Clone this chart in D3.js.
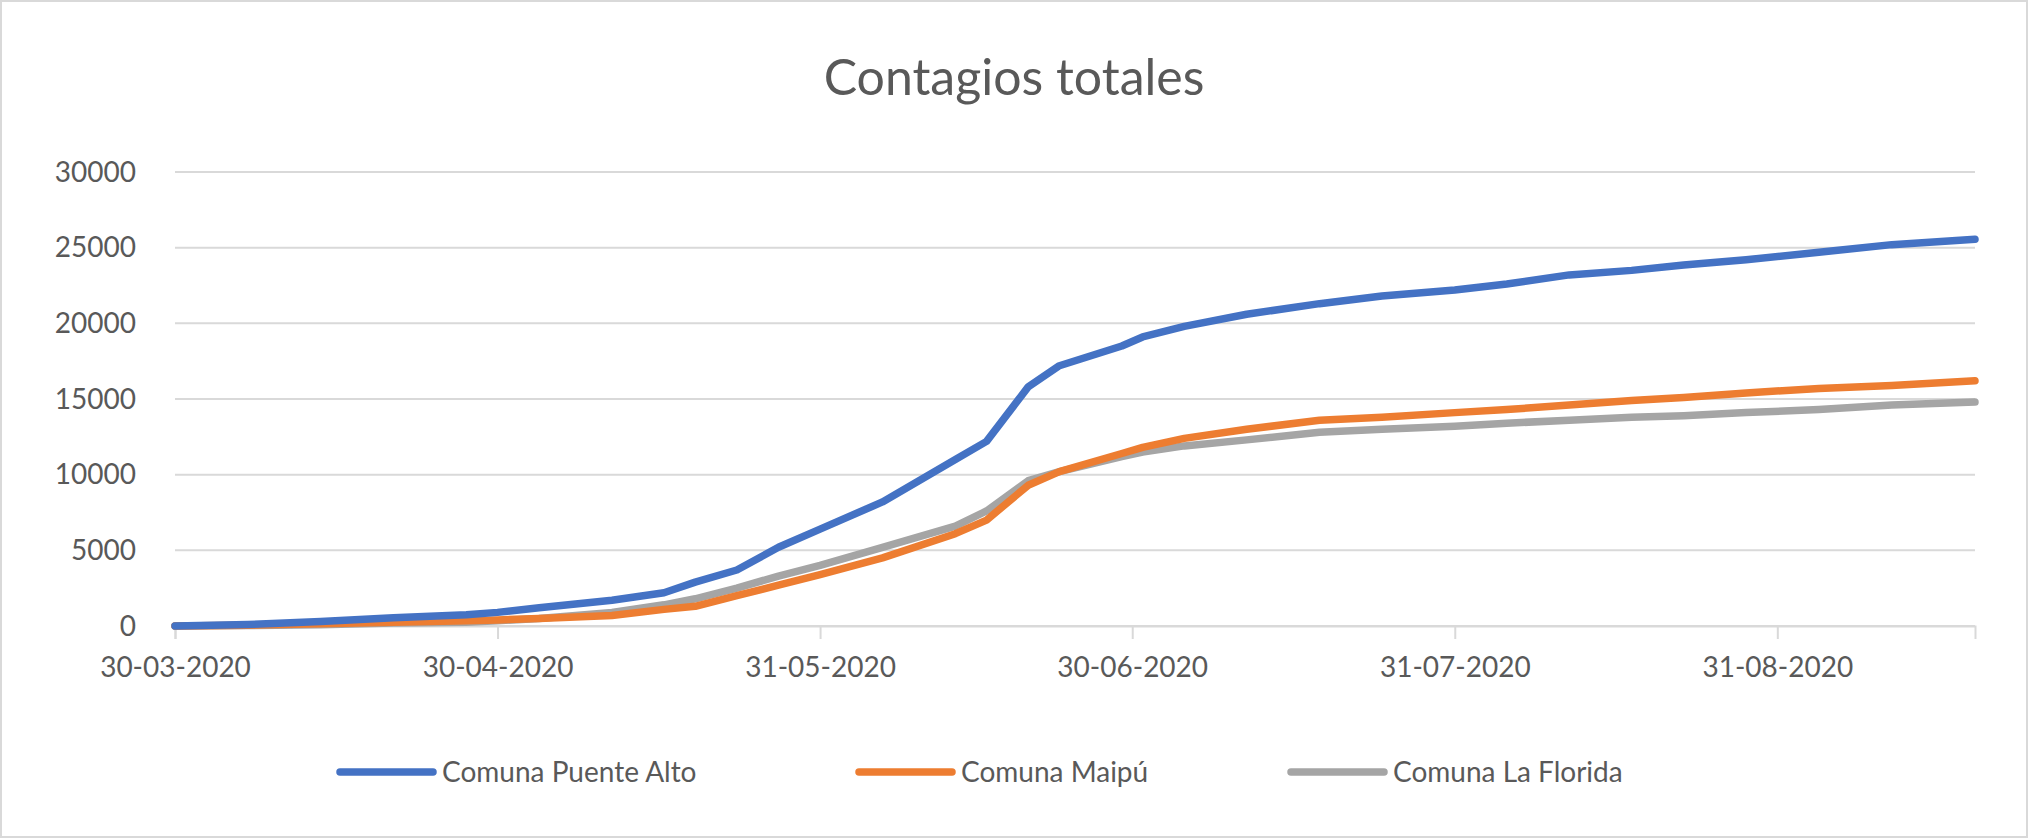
<!DOCTYPE html>
<html lang="en">
<head>
<meta charset="UTF-8">
<title>Contagios totales</title>
<script src="https://d3js.org/d3.v7.min.js"></script>
<style>
  body { margin: 0; background: #fff; }
  svg { font-family: Lato, "Open Sans", sans-serif; }
</style>
</head>
<body>
<div id="chart"></div>
<script>
const dates = ["2020-03-30","2020-04-06","2020-04-13","2020-04-20","2020-04-27","2020-04-30","2020-05-04",
  "2020-05-11","2020-05-16","2020-05-19","2020-05-23","2020-05-27","2020-05-31","2020-06-06","2020-06-13",
  "2020-06-16","2020-06-20","2020-06-23","2020-06-29","2020-07-01","2020-07-05","2020-07-11","2020-07-18",
  "2020-07-24","2020-07-31","2020-08-05","2020-08-11","2020-08-17","2020-08-22","2020-08-28","2020-09-04",
  "2020-09-11","2020-09-19"];
const puenteAlto = [0,100,300,550,750,900,1200,1700,2200,2900,3700,5200,6400,8200,11000,12200,15800,17200,
  18500,19100,19800,20600,21300,21800,22200,22600,23200,23500,23850,24200,24700,25200,25550];
const maipu = [0,50,150,250,350,400,500,700,1100,1300,2000,2700,3400,4500,6100,7000,9300,10200,11400,11800,
  12400,13000,13600,13800,14100,14300,14600,14900,15100,15400,15700,15900,16200];
const laFlorida = [0,30,80,200,250,350,500,900,1400,1800,2500,3300,4000,5200,6600,7600,9600,10200,11200,11500,
  11900,12300,12800,13000,13200,13400,13600,13800,13900,14100,14300,14600,14800];
const seriesNames = ["Comuna Puente Alto", "Comuna Maipú", "Comuna La Florida"];
const seriesColors = ["#4472c4", "#ed7d31", "#a5a5a5"];
const tickDates = ["2020-03-30","2020-04-30","2020-05-31","2020-06-30","2020-07-31","2020-08-31"];
const yTicks = [0, 5000, 10000, 15000, 20000, 25000, 30000];

const width = 2028, height = 838;
const margin = {left: 175, right: 53, top: 172, bottom: 212};
const parse = d3.timeParse("%Y-%m-%d");
const fmt = d3.timeFormat("%d-%m-%Y");

const svg = d3.select("#chart").append("svg").attr("width", width).attr("height", height);
svg.append("rect").attr("x", 1).attr("y", 1).attr("width", width - 2).attr("height", height - 2)
   .attr("fill", "#fff").attr("stroke", "#d9d9d9").attr("stroke-width", 2);

const x = d3.scaleTime().domain([parse(dates[0]), parse(dates[dates.length - 1])])
            .range([margin.left, width - margin.right]);
const y = d3.scaleLinear().domain([0, 30000]).range([height - margin.bottom, margin.top]);

svg.append("text").attr("x", width / 2).attr("y", 95).attr("text-anchor", "middle")
   .attr("font-size", 50).attr("fill", "#595959").text("Contagios totales");

// grid
svg.append("g").selectAll("line").data(yTicks).join("line")
   .attr("x1", margin.left).attr("x2", width - margin.right)
   .attr("y1", d => y(d)).attr("y2", d => y(d))
   .attr("stroke", "#d9d9d9").attr("stroke-width", 2);

// y labels
svg.append("g").selectAll("text").data(yTicks).join("text")
   .attr("x", 136).attr("y", d => y(d)).attr("dy", "0.35em").attr("text-anchor", "end")
   .attr("font-size", 28).attr("fill", "#595959").text(d => d);

// x axis
const xAxis = d3.axisBottom(x).tickValues(tickDates.map(parse)).tickFormat(fmt).tickSize(13).tickPadding(18);
const gx = svg.append("g").attr("transform", `translate(0,${y(0)})`).call(xAxis);
gx.select(".domain").attr("stroke", "#d9d9d9").attr("stroke-width", 2);
gx.selectAll(".tick line").attr("stroke", "#d9d9d9").attr("stroke-width", 2);
gx.selectAll(".tick text").attr("font-size", 28).attr("fill", "#595959")
  .attr("font-family", "Lato, 'Open Sans', sans-serif");

// lines
const allSeries = [puenteAlto, maipu, laFlorida];
const line = d3.line().x((d, i) => x(parse(dates[i]))).y(d => y(d));
[2, 1, 0].forEach(k => {
  svg.append("path").datum(allSeries[k]).attr("d", line)
     .attr("fill", "none").attr("stroke", seriesColors[k]).attr("stroke-width", 7.5)
     .attr("stroke-linejoin", "round").attr("stroke-linecap", "round");
});

// legend
const legX = [340, 859, 1291];
const leg = svg.append("g").selectAll("g").data(seriesNames).join("g")
   .attr("transform", (d, i) => `translate(${legX[i]},772)`);
leg.append("line").attr("x1", 0).attr("x2", 93).attr("stroke", (d, i) => seriesColors[i])
   .attr("stroke-width", 7.5).attr("stroke-linecap", "round");
leg.append("text").attr("x", 102).attr("dy", "0.35em").attr("font-size", 28).attr("fill", "#595959").text(d => d);
</script>
</body>
</html>
